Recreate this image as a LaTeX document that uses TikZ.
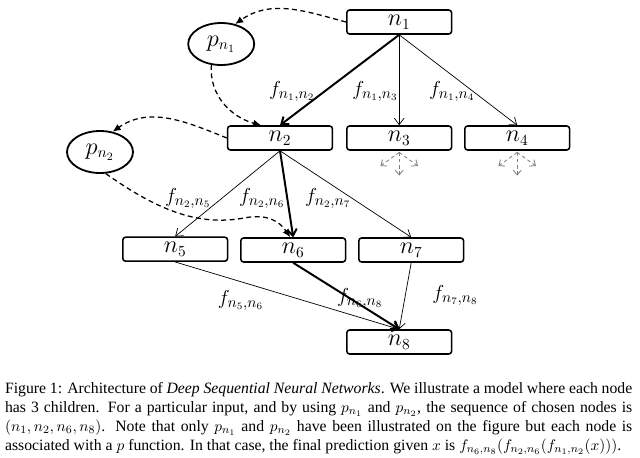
\documentclass[tikz,border=0pt]{standalone}
\usepackage{amsmath}
\usepackage{fontspec}
\setmainfont{Liberation Serif}
\usetikzlibrary{arrows.meta}
\usetikzlibrary{shapes.geometric}

\begin{document}
\begin{tikzpicture}[
    box/.style={rectangle, draw, line width=1.1pt, rounded corners=2pt, minimum width=2.62cm, minimum height=0.6cm, inner sep=0pt, font=\fontsize{16}{18}\selectfont},
    pnode/.style={ellipse, draw, line width=1.3pt, minimum width=1.65cm, minimum height=1.05cm, inner sep=0pt, font=\fontsize{16}{18}\selectfont},
    lbl/.style={inner sep=0pt, font=\fontsize{15}{18}\selectfont},
    edge/.style={-{Straight Barb[length=1.6mm, width=2.4mm]}, line width=0.5pt},
    chosen/.style={edge, line width=1.4pt},
    choice/.style={dash pattern=on 3.5pt off 2.5pt, line width=0.9pt, -{Latex[length=2mm, width=1.8mm]}},
    child/.style={dash pattern=on 2.5pt off 2pt, gray, line width=0.6pt, -{Straight Barb[length=1.2mm, width=2mm]}}
  ]
    \useasboundingbox (0,0) rectangle (16,-11.425);

    \node[box] (n1) at (9.98,-0.55) {$n_1$};
    \node[box] (n2) at (7.0,-3.45) {$n_2$};
    \node[box] (n3) at (9.98,-3.45) {$n_3$};
    \node[box] (n4) at (12.93,-3.45) {$n_4$};
    \node[box] (n5) at (4.38,-6.23) {$n_5$};
    \node[box] (n6) at (7.33,-6.25) {$n_6$};
    \node[box] (n7) at (10.28,-6.25) {$n_7$};
    \node[box] (n8) at (9.98,-8.55) {$n_8$};

    \node[pnode] (p1) at (5.53,-1.1) {$p_{n_1}$};
    \node[pnode] (p2) at (2.5,-3.8) {$p_{n_2}$};

    % edges of the tree
    \draw[chosen] (n1.south) -- (n2.north);
    \draw[edge] (n1.south) -- (n3.north);
    \draw[edge] (n1.south) -- (n4.north);
    \draw[edge] (n2.south) -- (n5.north);
    \draw[chosen] (n2.south) -- (n6.north);
    \draw[edge] (n2.south) -- (n7.north);
    \draw[edge] (n5.south) -- (n8.north);
    \draw[chosen] (n6.south) -- (n8.north);
    \draw[edge] (n7.south) -- (n8.north);

    \node[lbl] (f12) at (7.3,-2.28) {$f_{n_1,n_2}$};
    \node[lbl] (f13) at (9.38,-2.28) {$f_{n_1,n_3}$};
    \node[lbl] (f14) at (11.3,-2.28) {$f_{n_1,n_4}$};
    \node[lbl] (f25) at (4.7,-4.95) {$f_{n_2,n_5}$};
    \node[lbl] (f26) at (6.55,-4.95) {$f_{n_2,n_6}$};
    \node[lbl] (f27) at (8.2,-4.95) {$f_{n_2,n_7}$};
    \node[lbl] (f56) at (6.02,-7.5) {$f_{n_5,n_6}$};
    \node[lbl] (f68) at (9.0,-7.45) {$f_{n_6,n_8}$};
    \node[lbl] (f78) at (11.38,-7.38) {$f_{n_7,n_8}$};

    % choices made by p
    \draw[choice] (n1.west) to[out=165, in=35] (p1.55);
    \draw[choice] (p1.245) to[out=-95, in=165] (n2.146);
    \draw[choice] (n2.west) to[out=158, in=35] (p2.58);
    \draw[choice] (p2.-75) .. controls (4.0,-5.3) and (5.0,-5.65) .. (6.1,-5.45) .. controls (6.7,-5.33) and (7.0,-5.55) .. (n6.103);

    % other children
    \foreach \n in {n3, n4}
      \foreach \ang in {-144, -90, -36}
        \draw[child] (\n.south) ++(0,-0.04) -- ++(\ang:0.58);

    \node[anchor=north west, text width=15.68cm, align=justify, inner sep=0pt, font=\fontsize{11.2}{13.5}\selectfont] (caption) at (0.12,-9.55) {Figure 1: Architecture of \textit{Deep Sequential Neural Networks}. We illustrate a model where each node\linebreak has 3 children. For a particular input, and by using $p_{n_1}$ and $p_{n_2}$, the sequence of chosen nodes is\linebreak $(n_1, n_2, n_6, n_8)$. Note that only $p_{n_1}$ and $p_{n_2}$ have been illustrated on the figure but each node is\linebreak associated with a $p$ function. In that case, the final prediction given $x$ is $f_{n_6,n_8}(f_{n_2,n_6}(f_{n_1,n_2}(x)))$.};
  \end{tikzpicture}
\end{document}
